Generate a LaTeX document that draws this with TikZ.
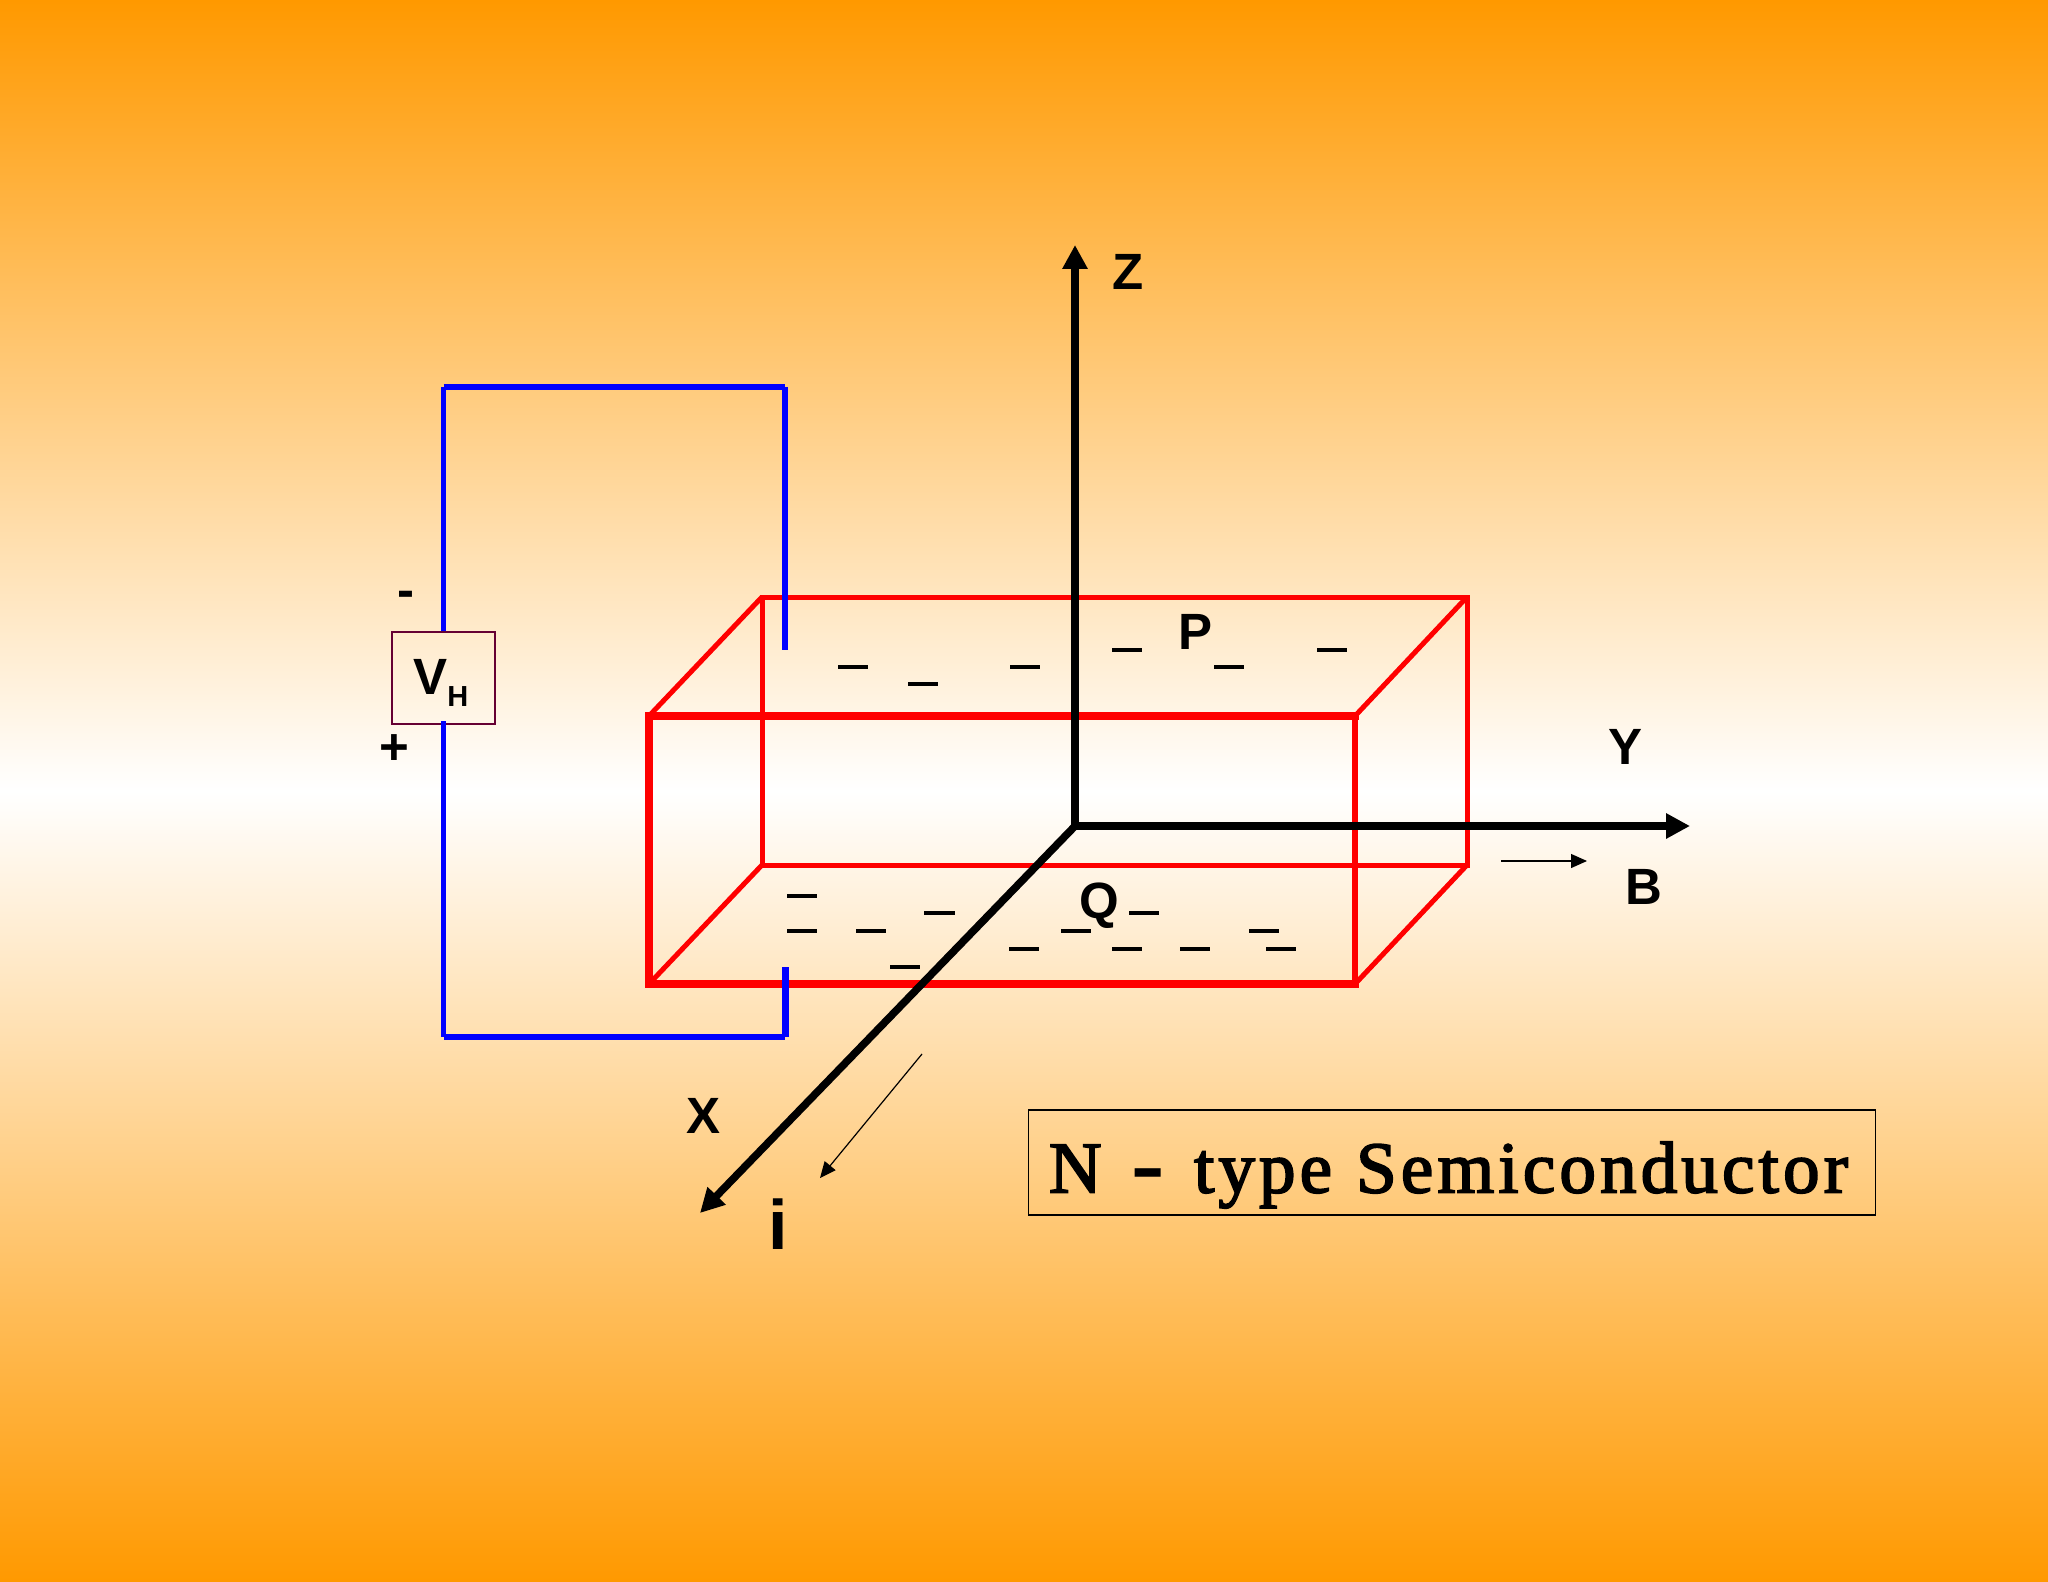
\documentclass[tikz,border=0pt]{standalone}
\usepackage{fontspec}
\setmainfont{Liberation Sans}
\newfontfamily\titlefont[LetterSpace=5.7, FakeBold=2.5]{Liberation Serif}
\newfontfamily\dashfont{Liberation Serif}
\usetikzlibrary{arrows.meta}
\definecolor{bgorange}{HTML}{FF9900}
\definecolor{boxmaroon}{HTML}{660033}
\tikzstyle{frontedge} = [red, line width=3.6pt, line cap=rect]
\tikzstyle{backedge} = [red, line width=2.5pt]
\tikzstyle{wire} = [blue, line width=2.9pt]
\tikzstyle{axis} = [-{Triangle[length=12pt, width=12pt]}, line width=3.8pt]
\tikzstyle{thinarrow} = [-{Triangle[length=8pt, width=7pt]}, line width=0.6pt]
\tikzstyle{charge} = [fill=black, inner sep=0pt, minimum width=15.3pt, minimum height=2.4pt]
\tikzstyle{label} = [inner sep=0pt, font=\fontsize{25.5}{26}\selectfont\bfseries]
\begin{document}
\begin{tikzpicture}[x=0.5pt, y=-0.5pt]
	\shade [top color=bgorange, bottom color=bgorange, middle color=white] (0,0) rectangle (2048,1582);
	\useasboundingbox (0,0) rectangle (2048,1582);
	
	% corners of the block
	\coordinate (ftl) at (649,716);
	\coordinate (ftr) at (1355,716);
	\coordinate (fbl) at (649,984);
	\coordinate (fbr) at (1355,984);
	\coordinate (btl) at (762,597);
	\coordinate (btr) at (1467,597);
	\coordinate (bbl) at (762,865);
	\coordinate (bbr) at (1467,865);
	
	\draw [backedge] (btl) -- (btr) -- (bbr) -- (bbl) -- cycle;
	\draw [backedge] (ftl) -- (btl);
	\draw [backedge] (ftr) -- (btr);
	\draw [backedge] (fbl) -- (bbl);
	\draw [backedge] (fbr) -- (bbr);
	\draw [frontedge] (ftl) -- (ftr);
	\draw [frontedge, line width=3.3pt] (ftr) -- (fbr);
	\draw [frontedge, line width=3.9pt] (fbr) -- (fbl);
	\draw [frontedge, line width=4.2pt] (fbl) -- (ftl);
	
	% axes
	\coordinate (o) at (1075,826);
	\coordinate (ztip) at (1075,245);
	\coordinate (ytip) at (1690,826);
	\coordinate (xtip) at (700,1213);
	\draw [axis] (o) -- (ztip);
	\draw [axis] (o) -- (ytip);
	\draw [axis] (o) -- (xtip);
	\node (z) [label] at (1128,272) {Z};
	\node (y) [label] at (1625,747) {Y};
	\node (x) [label] at (703,1116) {X};
	
	% field and current
	\coordinate (bstart) at (1501,861);
	\coordinate (bend) at (1587,861);
	\draw [thinarrow] (bstart) -- (bend);
	\node (b) [label] at (1644,887) {B};
	\coordinate (istart) at (922,1054);
	\coordinate (iend) at (820,1178);
	\draw [thinarrow] (istart) -- (iend);
	\node (i) [label, font=\fontsize{35}{36}\selectfont\bfseries] at (778,1224) {i};
	
	% voltmeter
	\node (vbox) [draw=boxmaroon, line width=0.8pt, minimum width=51.5pt, minimum height=46pt, inner sep=0pt] at (443.5,678) {};
	\node (vh) [label, anchor=base west] at (413,694) {V\raisebox{-6.3pt}{\fontsize{14.5}{15}\selectfont H}};
	\node (minus) [label] at (405.5,599.5) {-};
	\node (plus) [label] at (394,750) {+};
	\coordinate (wtl) at (443.5,387);
	\coordinate (wtr) at (785,387);
	\coordinate (wte) at (785,650);
	\coordinate (wbs) at (443.5,721);
	\coordinate (wbl) at (443.5,1037);
	\coordinate (wbr) at (785,1037);
	\coordinate (wbe) at (785,967);
	\draw [wire] (vbox.north) -- (wtl);
	\draw [wire] (wtl) -- (wtr);
	\draw [wire] (wtr) -- (wte);
	\draw [wire] (wbs) -- (wbl);
	\draw [wire] (wbl) -- (wbr);
	\draw [wire, line width=3.5pt] (wbr) -- (wbe);
	
	% plate labels and charges
	\node (p) [label] at (1195,632) {P};
	\node (q) [label] at (1099,906) {Q};
	\foreach \cx/\cy [count=\n] in {853/667, 923/684, 1025/667, 1127/650, 1229/667, 1332/650,
		802/896, 802/931, 871/931, 939.5/913, 905/967, 1024/949,
		1076/931, 1144/913, 1127/949, 1195/949, 1264/931, 1281/949}
		\node (c\n) [charge] at (\cx,\cy) {};
	
	% title
	\node (title) [draw, line width=0.8pt, minimum width=423.5pt, minimum height=52.5pt, inner sep=0pt, text height=30pt, text depth=0pt, font=\titlefont\fontsize{36.5}{37}\selectfont] at (1452,1162.5) {N\hspace{15pt}\raisebox{-2pt}{\dashfont\bfseries\fontsize{50}{50}\selectfont -}\hspace{14.5pt}type\hspace{12pt}Semiconductor\hspace*{3.5pt}};
\end{tikzpicture}
\end{document}
